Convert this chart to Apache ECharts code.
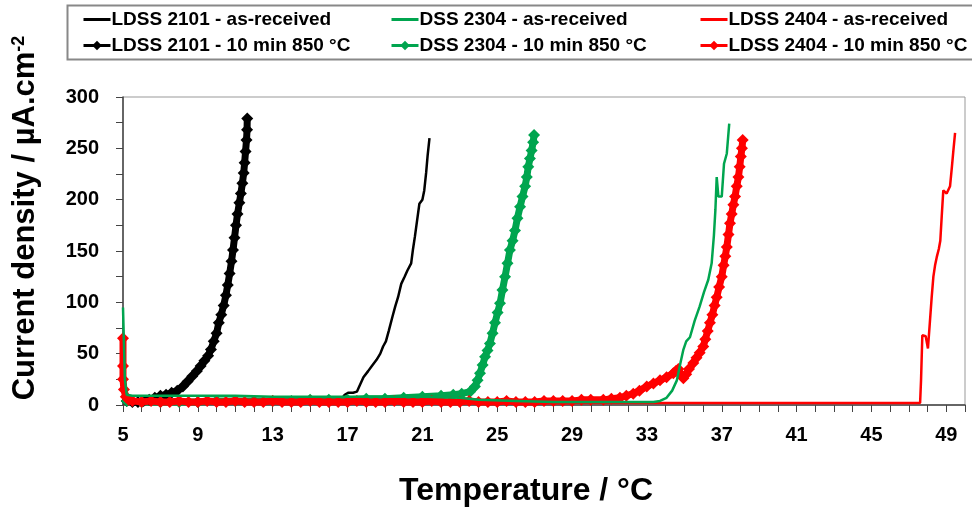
<!DOCTYPE html>
<html>
<head>
<meta charset="utf-8">
<script src="https://cdn.jsdelivr.net/npm/echarts@6/dist/echarts.min.js"></script>
<style>
  html, body { margin: 0; padding: 0; background: #fff; }
  #chart { width: 972px; height: 508px; }
</style>
</head>
<body>
<div id="chart"></div>
<script>
// [temperature °C, current density µA/cm2]
const ldss2101AsReceived = [
  [5,2],[6,2],[8,2],[10,2],[12,2],[14,3],[16,3],[16.6,4],[16.85,10],[17.05,12],[17.3,12],[17.5,13],
  [17.65,19],[17.85,27],[18.1,33],[18.3,38],[18.55,44],[18.75,50],[18.9,57],[19.05,62],[19.2,72],
  [19.4,86],[19.55,96],[19.7,105],[19.87,118],[20.05,125],[20.2,131],[20.4,138],[20.5,152],[20.6,164],
  [20.72,180],[20.84,196],[21.0,200],[21.1,209],[21.2,226],[21.28,243],[21.38,260]
];
const ldss2101Annealed = [
  [5.2,4],[5.5,3],[5.8,3],[6.1,4],[6.4,5],[6.7,7],[7.0,9],[7.3,10],[7.6,12],[7.9,14],[8.2,18],[8.45,23],
  [8.7,28],[8.95,33],[9.15,38],[9.35,43],[9.55,48],[9.7,54],[9.85,62],[10.0,70],[10.12,80],[10.25,88],
  [10.38,97],[10.5,107],[10.6,117],[10.7,128],[10.8,140],[10.88,151],[10.96,163],[11.04,175],[11.12,186],
  [11.22,197],[11.3,206],[11.38,216],[11.45,226],[11.5,236],[11.55,247],[11.6,258],[11.63,268],[11.64,279]
];
const dss2304AsReceived = [
  [5,95],[5.05,60],[5.1,25],[5.2,10],[5.5,9],[7,9],[9,9],[11,9],[13,8],[15,8],[17,8],[19,8],[21,8],[23,7],
  [24,5],[26,4],[28,3],[30,3],[32,3],[33.35,3],[33.7,4],[34.05,7],[34.35,14],[34.6,24],[34.78,40],
  [34.95,54],[35.1,62],[35.3,66],[35.55,82],[35.82,96],[36.05,110],[36.28,122],[36.46,138],[36.58,165],
  [36.66,190],[36.73,222],[36.82,203],[37.0,203],[37.12,235],[37.27,245],[37.4,274]
];
const dss2304Annealed = [
  [5.2,4],[6,3],[7,3],[8,3],[9,3],[10,4],[11,4],[12,4],[13,4],[14,4],[15,5],[16,5],[17,5],[18,6],[19,6],
  [20,7],[21,8],[22,9],[22.65,10],[23.1,11],[23.55,13],[23.81,18],[23.95,24],[24.08,31],[24.22,39],
  [24.35,47],[24.48,53],[24.61,60],[24.75,70],[24.88,80],[25.02,90],[25.15,99],[25.28,112],[25.42,125],
  [25.55,138],[25.68,151],[25.82,160],[25.95,170],[26.08,182],[26.22,193],[26.35,203],[26.49,213],
  [26.58,222],[26.66,232],[26.75,240],[26.84,248],[26.92,256],[26.97,263]
];
const ldss2404AsReceived = [
  [5,2],[10,2],[15,2],[20,2],[25,2],[30,2],[35,2],[40,2],[45,2],[47.6,2],[47.65,24],[47.72,68],[47.9,67],
  [48.02,55],[48.12,80],[48.22,105],[48.31,125],[48.4,136],[48.49,144],[48.6,152],[48.68,160],[48.76,185],
  [48.84,209],[49.02,206],[49.2,213],[49.3,232],[49.38,248],[49.47,265]
];
const ldss2404Annealed = [
  [5,65],[5,38],[5,25],[5.05,15],[5.15,8],[5.3,5],[5.5,4],[6,3],[6.5,4],[7,3],[7.5,3],[8,4],[8.5,3],[9,3],
  [9.5,4],[10,3],[10.5,3],[11,4],[11.5,3],[12,3],[12.5,3],[13,4],[13.5,3],[14,3],[14.5,3],[15,4],[15.5,3],
  [16,3],[16.5,3],[17,3],[17.5,4],[18,3],[18.5,3],[19,3],[19.5,4],[20,3],[20.5,3],[21,3],[21.5,4],[22,3],
  [22.5,3],[23,3],[23.5,4],[24,3],[24.5,3],[25,3],[25.5,4],[26,3],[26.5,3],[27,3],[27.5,4],[28,4],[28.5,4],
  [29,4],[29.5,5],[30,5],[30.67,5],[31.1,6],[31.56,7],[31.9,9],[32.27,11],[32.6,14],[32.99,18],[33.35,21],
  [33.7,24],[34.05,27],[34.41,31],[34.55,33],[34.68,35],[34.8,30],[34.95,26],[35.1,30],[35.25,35],
  [35.48,41],[35.65,46],[35.82,51],[36.01,57],[36.12,64],[36.25,72],[36.37,80],[36.5,88],[36.62,97],
  [36.73,105],[36.86,115],[37.0,125],[37.1,136],[37.19,145],[37.27,154],[37.36,166],[37.44,177],
  [37.53,186],[37.62,195],[37.71,203],[37.8,213],[37.89,222],[37.96,232],[38.02,242],[38.08,250],[38.12,258]
];

const names = [
  'LDSS 2101 - as-received', 'LDSS 2101 - 10 min 850 °C',
  'DSS 2304 - as-received', 'DSS 2304 - 10 min 850 °C',
  'LDSS 2404 - as-received', 'LDSS 2404 - 10 min 850 °C'
];
const BLACK = '#000000', GREEN = '#00a54f', RED = '#ff0000';
const FONT = '"Liberation Sans", Arial, sans-serif';
// plain bar icon for the as-received entries (corner points keep the 27x12 box)
const BAR_ICON = 'path://M0,0L0.01,0M0,4.5L27,4.5L27,7.5L0,7.5ZM27,12L26.99,12';

function asReceived(name, data, color, z) {
  return {
    name: name, type: 'line', data: data, z: z,
    symbol: 'none', color: color,
    lineStyle: { color: color, width: 2.5 }
  };
}
function annealed(name, data, color, z) {
  return {
    name: name, type: 'line', data: data, z: z,
    symbol: 'diamond', symbolSize: 12, showSymbol: true, color: color,
    itemStyle: { color: color },
    lineStyle: { color: color, width: 7 }
  };
}

function legendCol(left, items) {
  return {
    orient: 'vertical', left: left, top: 5, itemGap: 7,
    itemWidth: 27, itemHeight: 12,
    lineStyle: { width: 3 },
    textStyle: { fontSize: 19, fontWeight: 'bold', color: '#000', fontFamily: FONT, padding: [0, 0, 0, -4] },
    data: [{ name: items[0], icon: BAR_ICON }, { name: items[1] }]
  };
}

const chart = echarts.init(document.getElementById('chart'));
chart.setOption({
  animation: false,
  backgroundColor: '#fff',
  graphic: [{
    type: 'rect', left: 65, top: 3, silent: true,
    shape: { width: 920, height: 54 },
    style: { fill: 'none', stroke: '#888', lineWidth: 2 }
  }],
  legend: [
    legendCol(77, [names[0], names[1]]),
    legendCol(385, [names[2], names[3]]),
    legendCol(694, [names[4], names[5]])
  ],
  grid: {
    left: 123, top: 97, right: 7, bottom: 103, outerBoundsMode: 'none',
    show: true, borderColor: '#999', borderWidth: 1
  },
  xAxis: {
    type: 'value', min: 5, max: 50, interval: 1,
    axisLine: { lineStyle: { color: '#444', width: 1.5 } },
    axisTick: { length: 7, lineStyle: { color: '#444' } },
    splitLine: { show: false },
    axisLabel: {
      formatter: v => ((v - 5) % 4 === 0 ? String(v) : ''),
      fontSize: 20, fontWeight: 'bold', color: '#000', fontFamily: FONT, margin: 20
    },
    name: 'Temperature / °C', nameLocation: 'middle', nameGap: 70,
    nameTextStyle: { fontSize: 32, fontWeight: 'bold', color: '#000', fontFamily: FONT, padding: [0, 36, 0, 0] }
  },
  yAxis: {
    type: 'value', min: 0, max: 300, interval: 25,
    axisLine: { show: true, lineStyle: { color: '#444', width: 1.5 } },
    axisTick: { show: true, length: 7, lineStyle: { color: '#444' } },
    splitLine: { show: false },
    axisLabel: {
      formatter: v => (v % 50 === 0 ? String(v) : ''),
      fontSize: 20, fontWeight: 'bold', color: '#000', fontFamily: FONT, margin: 24
    },
    name: '{a|Current density / µA.cm}{b|-2}', nameLocation: 'middle', nameGap: 82,
    nameTextStyle: {
      color: '#000', fontFamily: FONT, padding: [0, 0, 0, 66],
      rich: {
        a: { fontSize: 31, fontWeight: 'bold', color: '#000', fontFamily: FONT },
        b: { fontSize: 18, fontWeight: 'bold', color: '#000', fontFamily: FONT, verticalAlign: 'top' }
      }
    }
  },
  series: [
    asReceived(names[0], ldss2101AsReceived, BLACK, 2),
    annealed(names[1], ldss2101Annealed, BLACK, 2),
    annealed(names[3], dss2304Annealed, GREEN, 2),
    asReceived(names[4], ldss2404AsReceived, RED, 2),
    annealed(names[5], ldss2404Annealed, RED, 3),
    asReceived(names[2], dss2304AsReceived, GREEN, 4)
  ]
});
</script>
</body>
</html>
